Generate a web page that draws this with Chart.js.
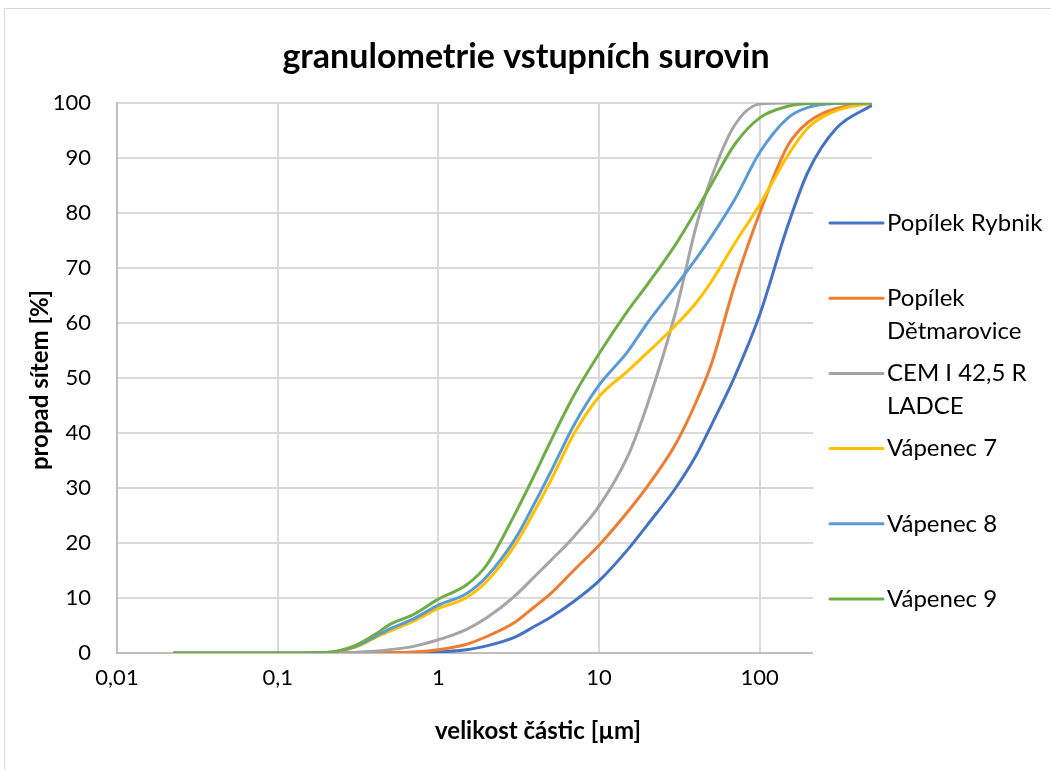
<!DOCTYPE html>
<html>
<head>
<meta charset="utf-8">
<script src="https://cdn.jsdelivr.net/npm/chart.js@4.4.1/dist/chart.umd.min.js"></script>
<style>
  body { margin: 0; background: #fff; }
</style>
</head>
<body>
<canvas id="myChart" width="1051" height="770"></canvas>
<script>
const ctx = document.getElementById('myChart');

// velikost částic [µm]
const sizes = [0.0225, 0.05, 0.1, 0.2, 0.3, 0.4, 0.5, 0.7, 1, 1.5, 2, 3, 4, 5, 7, 10, 15, 20, 30, 40, 50, 70, 100, 150, 200, 300, 500];

const popilekRybnik =      [0, 0, 0, 0, 0, 0, 0, 0.05, 0.2, 0.6, 1.3, 2.9, 4.9, 6.5, 9.4, 13.1, 18.7, 23.3, 30, 35.8, 41.4, 50.3, 61.5, 77.8, 87.5, 95.4, 99.6];
const popilekDetmarovice = [0, 0, 0, 0, 0, 0, 0.05, 0.2, 0.6, 1.6, 3.0, 5.6, 8.5, 10.8, 15.1, 19.6, 25.6, 30.3, 38, 45.5, 52.5, 67, 80, 92.3, 96.5, 99, 100];
const cemLadce =           [0, 0, 0, 0, 0.1, 0.3, 0.6, 1.2, 2.4, 4.3, 6.4, 10.4, 14.0, 16.8, 21.2, 26.7, 35.6, 45.2, 62, 77.3, 86.4, 96, 99.8, 100, 100, 100, 100];
const vapenec7 =           [0, 0, 0, 0.1, 1.0, 2.7, 4.0, 5.8, 8.1, 10.1, 13, 19.6, 26, 31.3, 39.9, 46.6, 51.2, 54.6, 59.6, 63.6, 67.5, 74.5, 81.5, 90.5, 95.5, 98.6, 100];
const vapenec8 =           [0, 0, 0, 0.1, 1.1, 2.9, 4.4, 6.2, 8.7, 10.8, 13.9, 20.7, 27.4, 32.9, 41.5, 48.7, 54.7, 60, 66.7, 71.6, 75.7, 82.5, 91, 97.3, 99.2, 99.9, 100];
const vapenec9 =           [0, 0, 0, 0.1, 1.3, 3.3, 5.2, 7.0, 9.8, 12.4, 16, 25.3, 32.6, 38.5, 46.9, 54.4, 62.1, 67, 74.3, 80.3, 85.2, 92.5, 97.3, 99.4, 99.9, 100, 100];

const seriesNames = ['Popílek Rybnik', 'Popílek Dětmarovice', 'CEM I 42,5 R LADCE', 'Vápenec 7', 'Vápenec 8', 'Vápenec 9'];
const seriesValues = [popilekRybnik, popilekDetmarovice, cemLadce, vapenec7, vapenec8, vapenec9];
const seriesColors = ['#4472C4', '#ED7D31', '#A5A5A5', '#FFC000', '#5B9BD5', '#70AD47'];

const xTicks = [0.01, 0.1, 1, 10, 100];
const yTicks = [0, 10, 20, 30, 40, 50, 60, 70, 80, 90, 100];

const chartTitle = 'granulometrie vstupních surovin';
const xTitle = 'velikost částic [µm]';
const yTitle = 'propad sítem [%]';
// legend rows as drawn (wrapped like Excel)
const legendLines = [['Popílek Rybnik'], ['Popílek', 'Dětmarovice'], ['CEM I 42,5 R', 'LADCE'], ['Vápenec 7'], ['Vápenec 8'], ['Vápenec 9']];

const FONT = 'Lato, "Open Sans", sans-serif';

const datasets = seriesNames.map((name, i) => ({
  label: name,
  data: sizes.map((s, j) => ({ x: s, y: seriesValues[i][j] })),
  borderColor: seriesColors[i],
  backgroundColor: seriesColors[i],
  borderWidth: 3,
  pointRadius: 0,
  cubicInterpolationMode: 'monotone',
  showLine: true,
  fill: false,
  order: seriesNames.length - i
}));

const decor = {
  id: 'decor',
  beforeDraw(chart) {
    const c = chart.ctx;
    c.save();
    c.fillStyle = '#fff';
    c.fillRect(0, 0, chart.width, chart.height);
    c.strokeStyle = '#d9d9d9';
    c.lineWidth = 1;
    c.strokeRect(4.5, 8.5, 1200, 900);
    c.restore();
  },
  beforeDatasetsDraw(chart) {
    const c = chart.ctx;
    c.save();
    // legend sits on top of the plot area like in Excel
    c.fillStyle = '#fff';
    c.fillRect(813, 185, 240, 480);
    c.font = '24px ' + FONT;
    c.textBaseline = 'middle';
    c.fillStyle = '#000';
    legendLines.forEach((lines, i) => {
      const y = 223 + i * 75.2;
      c.strokeStyle = seriesColors[i];
      c.lineWidth = 3;
      c.lineCap = 'round';
      c.beginPath();
      c.moveTo(830, y);
      c.lineTo(883, y);
      c.stroke();
      lines.forEach((t, k) => c.fillText(t, 887, y + k * 33));
    });
    c.restore();
  },
  afterDraw(chart) {
    const c = chart.ctx;
    c.save();
    c.fillStyle = '#000';
    c.textAlign = 'center';
    c.textBaseline = 'middle';
    c.font = 'bold 34px ' + FONT;
    c.fillText(chartTitle, 526, 57);
    c.font = 'bold 24px ' + FONT;
    c.fillText(xTitle, 538, 731);
    c.translate(40, 380);
    c.rotate(-Math.PI / 2);
    c.fillText(yTitle, 0, 0);
    c.restore();
  }
};

new Chart(ctx, {
  type: 'scatter',
  data: { datasets: datasets },
  plugins: [decor],
  options: {
    responsive: false,
    animation: false,
    layout: { padding: { top: 103, right: 179, bottom: 0, left: 0 } },
    plugins: {
      legend: { display: false },
      title: { display: false },
      tooltip: { enabled: false }
    },
    scales: {
      x: {
        type: 'logarithmic',
        min: 0.01,
        max: 500,
        afterBuildTicks: (scale) => { scale.ticks = xTicks.map(v => ({ value: v })); },
        afterFit: (scale) => { scale.height = 117; },
        ticks: {
          color: '#000',
          font: { family: FONT, size: 22 },
          padding: 12,
          maxRotation: 0,
          callback: (v) => String(v).replace('.', ',')
        },
        grid: { color: '#d9d9d9', lineWidth: 2, drawTicks: false },
        border: { color: '#bfbfbf', width: 2 }
      },
      y: {
        min: 0,
        max: 100,
        afterBuildTicks: (scale) => { scale.ticks = yTicks.map(v => ({ value: v })); },
        afterFit: (scale) => { scale.width = 117; },
        ticks: {
          color: '#000',
          font: { family: FONT, size: 22 },
          padding: 26
        },
        grid: { color: '#d9d9d9', lineWidth: 2, drawTicks: false },
        border: { color: '#bfbfbf', width: 2 }
      }
    }
  }
});
</script>
</body>
</html>
